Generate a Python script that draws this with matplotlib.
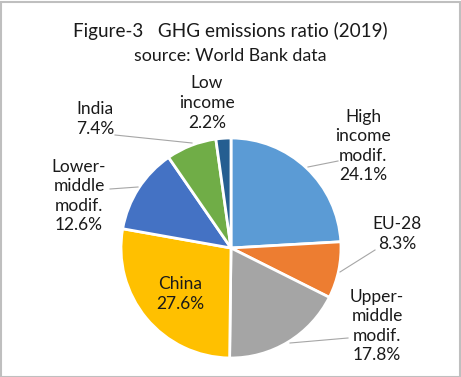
import matplotlib.pyplot as plt
from matplotlib.patches import Rectangle

# data (clockwise from 12 o'clock)
labels = ['High\nincome\nmodif.', 'EU-28', 'Upper-\nmiddle\nmodif.', 'China',
          'Lower-\nmiddle\nmodif.', 'India', 'Low\nincome']
shares = [24.1, 8.3, 17.8, 27.6, 12.6, 7.4, 2.2]
colors = ['#5B9BD5', '#ED7D31', '#A5A5A5', '#FFC000', '#4472C4', '#70AD47', '#255E91']

# label centres in pixel coords (x, y from top) and leader lines
label_pos = [(363, 146), (397, 234), (377, 326), (180, 294), (79, 196), (95, 119), (207, 103)]
leaders = {0: [(338, 161), (308, 167)], 1: [(375, 250), (340, 272)],
           2: [(348, 338), (290, 343)], 4: [(110, 189), (138, 187)],
           5: [(115, 135), (192, 143)]}

W, H = 461, 377
plt.rcParams['font.family'] = ['Lato', 'DejaVu Sans']
fig = plt.figure(figsize=(W / 100, H / 100), dpi=100)
ax = fig.add_axes([0, 0, 1, 1])

ax.pie(shares, colors=colors, startangle=90, counterclock=False,
       center=(231, H - 248), radius=110, frame=True,
       wedgeprops=dict(edgecolor='white', linewidth=2))
ax.set_xlim(0, W)
ax.set_ylim(0, H)
ax.set_aspect('equal')
ax.axis('off')

for i, (lab, val) in enumerate(zip(labels, shares)):
    x, y = label_pos[i]
    ax.text(x, H - y, f'{lab}\n{val:.1f}%', ha='center', va='center',
            fontsize=12.5, color='#1a1a1a', linespacing=1.28)
    if i in leaders:
        (x0, y0), (x1, y1) = leaders[i]
        ax.plot([x0, x1], [H - y0, H - y1], color='#A6A6A6', lw=0.8)

ax.text(W / 2, H - 31, 'Figure-3   GHG emissions ratio (2019)', ha='center', va='center',
        fontsize=13.6, color='#1a1a1a')
ax.text(W / 2, H - 56, 'source: World Bank data', ha='center', va='center',
        fontsize=12.8, color='#1a1a1a')

fig.add_artist(Rectangle((0.5 / W, 0.5 / H), 1 - 2 / W, 1 - 2 / H, transform=fig.transFigure,
                         fill=False, edgecolor='#BFBFBF', lw=1.5))

plt.savefig('out.png', dpi=100)
